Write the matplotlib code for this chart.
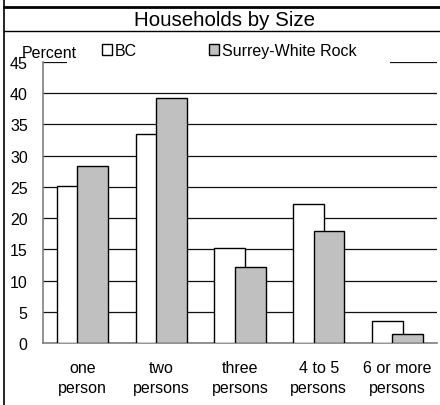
import numpy as np
import matplotlib.pyplot as plt
from matplotlib.lines import Line2D
from matplotlib.patches import Rectangle, Patch

plt.rcParams['font.family'] = ['Liberation Sans', 'DejaVu Sans']

categories = ["one\nperson", "two\npersons", "three\npersons", "4 to 5\npersons", "6 or more\npersons"]
bc = [25.2, 33.5, 15.2, 22.2, 3.6]
surrey = [28.3, 39.3, 12.2, 18.0, 1.5]
yticks = [0, 5, 10, 15, 20, 25, 30, 35, 40, 45]

W, H = 440, 406
fig = plt.figure(figsize=(W / 100, H / 100), dpi=100)
ax = fig.add_axes([43 / W, 62 / H, 394 / W, 281 / H])

x = np.arange(len(categories))
bw = 0.39
off = 0.13
ax.bar(x - off, bc, bw, color="white", edgecolor="black", linewidth=1, zorder=3)
ax.bar(x + off, surrey, bw, color="#c0c0c0", edgecolor="black", linewidth=1, zorder=4)

ax.set_xlim(-0.5, len(categories) - 0.5)
ax.set_ylim(0, 45)
ax.set_yticks(yticks)
ax.set_xticks(x)
ax.set_xticklabels(categories, fontsize=11.5, linespacing=1.45)
ax.tick_params(axis="y", length=0, pad=11, labelsize=11.5)
ax.tick_params(axis="x", length=0, pad=12)
ax.yaxis.grid(True, color="#101010", linewidth=0.9, zorder=0)
ax.set_axisbelow(True)
for s in ["top", "right"]:
    ax.spines[s].set_visible(False)
ax.spines["left"].set_color("#808080")
ax.spines["bottom"].set_color("#808080")
ax.spines["left"].set_linewidth(1.2)
ax.spines["bottom"].set_linewidth(1.2)

# white legend background over the top gridline
ax.add_patch(Rectangle((0.061, 0.98), 0.82, 0.06, transform=ax.transAxes,
                       facecolor="white", edgecolor="none", clip_on=False, zorder=5))

handles = [Patch(facecolor="white", edgecolor="black", linewidth=1),
           Patch(facecolor="#c0c0c0", edgecolor="black", linewidth=1)]
leg = ax.legend(handles, ["BC", "Surrey-White Rock"], ncol=2, frameon=False,
                loc="center left", bbox_to_anchor=(0.15, 1.04), fontsize=11.5,
                handlelength=0.65, handleheight=0.65, handletextpad=0.15,
                columnspacing=4.5, borderaxespad=0, borderpad=0)
leg.set_zorder(6)

ax.text(-0.053, 1.035, "Percent", transform=ax.transAxes, ha="left", va="center",
        fontsize=11.5, zorder=7)

fig.text(0.51, 1 - 20 / H, "Households by Size", ha="center", va="center", fontsize=14.8)

# frame lines
fig.add_artist(Line2D([4 / W, 4 / W], [0, 1], color="black", linewidth=1.2))
fig.add_artist(Line2D([4 / W, 1], [1 - 8 / H, 1 - 8 / H], color="black", linewidth=2))
fig.add_artist(Line2D([4 / W, 1], [1 - 32 / H, 1 - 32 / H], color="black", linewidth=1))

fig.savefig("out.png", dpi=100)
